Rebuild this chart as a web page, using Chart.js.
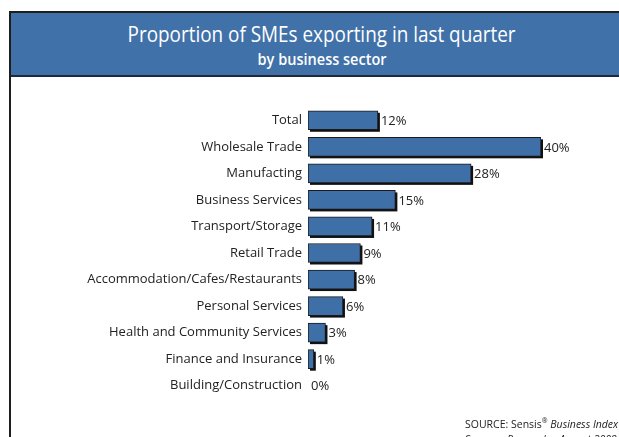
<!DOCTYPE html>
<html lang="en">
<head>
    <meta charset="UTF-8">
    <title>Proportion of SMEs exporting in last quarter</title>
    <script src="https://cdn.jsdelivr.net/npm/chart.js"></script>
    <style>
        html, body {
            margin: 0;
            padding: 0;
            width: 619px;
            height: 437px;
            overflow: hidden;
            background: #fff;
            font-family: 'Open Sans', sans-serif;
        }
        .frame {
            position: absolute;
            left: 9px;
            top: 11px;
            width: 640px;
            height: 460px;
            border: 2px solid #1e1e1e;
            box-sizing: border-box;
        }
        .header {
            position: absolute;
            left: 11px;
            top: 13px;
            width: 640px;
            height: 62px;
            background: #4171a9;
            border-bottom: 2px solid #1e2a3a;
            color: #fff;
        }
        .header div {
            position: absolute;
            left: 0;
            width: 622px;
            text-align: center;
            white-space: nowrap;
        }
        .header span {
            display: inline-block;
            transform-origin: center;
        }
        .header .t1 {
            top: 7px;
            font-size: 21px;
        }
        .header .t2 {
            top: 35px;
            font-size: 16px;
            font-weight: 600;
        }
        .chart-box {
            position: absolute;
            left: 0;
            top: 0;
            width: 619px;
            height: 437px;
        }
        .source {
            position: absolute;
            left: 465px;
            top: 413px;
            font-size: 10.5px;
            color: #222;
            line-height: 15px;
            white-space: nowrap;
        }
        .source sup {
            font-size: 7px;
        }
    </style>
</head>
<body>
    <div class="frame"></div>
    <div class="header">
        <div class="t1"><span id="title1">Proportion of SMEs exporting in last quarter</span></div>
        <div class="t2"><span id="title2">by business sector</span></div>
    </div>
    <div class="chart-box">
        <canvas id="sectorChart" width="619" height="437"></canvas>
    </div>
    <div class="source">
        SOURCE: Sensis<sup>®</sup> <i>Business Index</i><br>
        <i>Sweeney Research – August 2009</i>
    </div>

    <script>
        const sectors = [
            'Total',
            'Wholesale Trade',
            'Manufacting',
            'Business Services',
            'Transport/Storage',
            'Retail Trade',
            'Accommodation/Cafes/Restaurants',
            'Personal Services',
            'Health and Community Services',
            'Finance and Insurance',
            'Building/Construction'
        ];
        const exporting = [12, 40, 28, 15, 11, 9, 8, 6, 3, 1, 0];

        // squeeze the heading lines into a condensed look
        function condense(id, targetWidth) {
            const el = document.getElementById(id);
            const w = el.getBoundingClientRect().width;
            el.style.transform = 'scaleX(' + (targetWidth / w) + ')';
        }
        condense('title1', 388);
        condense('title2', 129);

        // dark drop shadow behind each bar
        const barShadow = {
            id: 'barShadow',
            beforeDatasetsDraw(chart) {
                const ctx = chart.ctx;
                const meta = chart.getDatasetMeta(0);
                ctx.save();
                ctx.fillStyle = '#111';
                meta.data.forEach((bar, i) => {
                    if (exporting[i] <= 0) return;
                    const left = Math.min(bar.base, bar.x);
                    const w = Math.abs(bar.x - bar.base);
                    ctx.fillRect(left + 2, bar.y - bar.height / 2 + 2, w, bar.height);
                });
                ctx.restore();
            }
        };

        // percentage written at the end of each bar
        const valueLabels = {
            id: 'valueLabels',
            afterDatasetsDraw(chart) {
                const ctx = chart.ctx;
                const meta = chart.getDatasetMeta(0);
                ctx.save();
                ctx.font = '13px "Open Sans"';
                ctx.fillStyle = '#222';
                ctx.textBaseline = 'middle';
                meta.data.forEach((bar, i) => {
                    ctx.fillText(exporting[i] + '%', bar.x + 3, bar.y + 1);
                });
                ctx.restore();
            }
        };

        new Chart(document.getElementById('sectorChart'), {
            type: 'bar',
            data: {
                labels: sectors,
                datasets: [{
                    data: exporting,
                    backgroundColor: '#3f6fa7',
                    borderColor: '#1a1a1a',
                    borderWidth: 1,
                    borderSkipped: false,
                    barThickness: 19
                }]
            },
            options: {
                indexAxis: 'y',
                responsive: false,
                animation: false,
                layout: {
                    padding: { left: 0, right: 78, top: 107, bottom: 38 }
                },
                plugins: {
                    legend: { display: false },
                    tooltip: { enabled: false }
                },
                scales: {
                    x: {
                        display: false,
                        min: 0,
                        max: 40
                    },
                    y: {
                        grid: { display: false, drawTicks: false },
                        border: { display: false },
                        ticks: {
                            color: '#222',
                            padding: 6,
                            font: { family: 'Open Sans', size: 13 }
                        },
                        afterFit(scale) {
                            scale.width = 308;
                        }
                    }
                }
            },
            plugins: [barShadow, valueLabels]
        });
    </script>
</body>
</html>
